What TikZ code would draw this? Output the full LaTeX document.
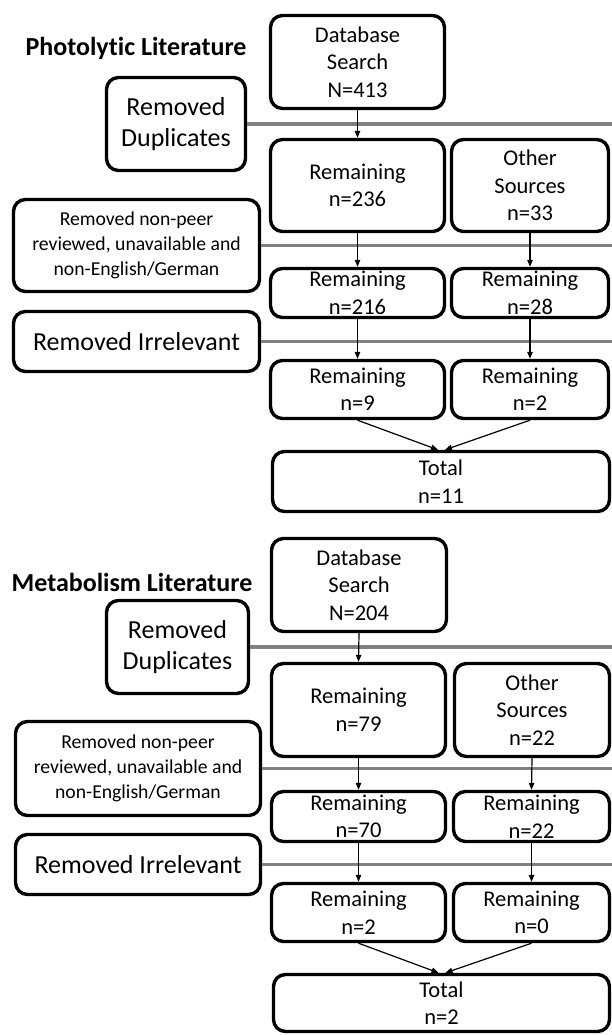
\documentclass[tikz,border=0pt]{standalone}
\usepackage{fontspec}
\setmainfont{Carlito}[Ligatures=CommonOff]
\usetikzlibrary{arrows.meta}
\definecolor{lgray}{RGB}{128,128,128}
\begin{document}
\begin{tikzpicture}[x=1pt,y=-1pt,
  box/.style={draw=black, line width=3.4pt, rounded corners=12pt, inner sep=0pt, align=center, font=\fontsize{22.5}{27.5}\selectfont},
  bigtxt/.style={font=\fontsize{26}{31}\selectfont},
  smalltxt/.style={font=\fontsize{19.7}{25}\selectfont},
  ttl/.style={inner sep=0pt, font=\fontsize{26}{30}\selectfont\bfseries},
  gline/.style={draw=lgray, line width=3.4pt},
  arr/.style={-{Triangle[length=7pt,width=5.5pt]}, line width=1.2pt}
]
\useasboundingbox (0,0) rectangle (612,1035);

% ---------- Part 1 ----------
\node[ttl] (t1) at (136,48) {Photolytic Literature};
\node[box, minimum width=174pt, minimum height=93pt] (db1) at (357.5,62) {Database\\Search\\N=413};
\node[box, bigtxt, minimum width=139pt, minimum height=93pt] (dup1) at (176,124) {Removed\\Duplicates};
\node[box, minimum width=174pt, minimum height=92pt] (rem1) at (357.5,185.5) {Remaining\\n=236};
\node[box, minimum width=157pt, minimum height=92pt] (oth1) at (530,185.5) {Other\\Sources\\n=33};
\node[box, smalltxt, minimum width=246pt, minimum height=92pt] (np1) at (136.5,245.5) {Removed non-peer\\reviewed, unavailable and\\non-English/German};
\node[box, minimum width=174pt, minimum height=49pt] (r216) at (357.5,293) {Remaining\\n=216};
\node[box, minimum width=157pt, minimum height=49pt] (r28) at (530,293) {Remaining\\n=28};
\node[box, bigtxt, minimum width=246pt, minimum height=60pt] (irr1) at (136.5,341.5) {Removed Irrelevant};
\node[box, minimum width=174pt, minimum height=58pt] (r9) at (357.5,389.5) {Remaining\\n=9};
\node[box, minimum width=157pt, minimum height=58pt] (r2a) at (530,389.5) {Remaining\\n=2};
\node[box, minimum width=337pt, minimum height=60pt] (tot1) at (441,481.5) {Total\\n=11};

\coordinate (e1) at (612,124);
\coordinate (e2) at (612,245.5);
\coordinate (e3) at (612,341.5);
\draw[gline] (dup1.east) -- (e1);
\draw[gline] (np1.east) -- (e2);
\draw[gline] (irr1.east) -- (e3);

\draw[arr] (db1.south) -- (rem1.north);
\draw[arr] (rem1.south) -- (r216.north);
\draw[arr] (oth1.south) -- (r28.north);
\draw[arr] (r216.south) -- (r9.north);
\draw[arr] (r28.south) -- (r2a.north);
\draw[arr] (r9.south) -- ([xshift=-3pt]tot1.north);
\draw[arr] (r2a.south) -- ([xshift=4pt]tot1.north);

% ---------- Part 2 ----------
\node[ttl] (t2) at (132,582) {Metabolism Literature};
\node[box, minimum width=175pt, minimum height=93pt] (db2) at (359,585) {Database\\Search\\N=204};
\node[box, bigtxt, minimum width=142pt, minimum height=93pt] (dup2) at (177.5,647) {Removed\\Duplicates};
\node[box, minimum width=174pt, minimum height=93pt] (rem2) at (358.5,710) {Remaining\\n=79};
\node[box, minimum width=155pt, minimum height=93pt] (oth2) at (532,710) {Other\\Sources\\n=22};
\node[box, smalltxt, minimum width=245pt, minimum height=94pt] (np2) at (138,768.5) {Removed non-peer\\reviewed, unavailable and\\non-English/German};
\node[box, minimum width=174pt, minimum height=50pt] (r70) at (358.5,816.5) {Remaining\\n=70};
\node[box, minimum width=156pt, minimum height=50pt] (r22) at (531.5,816.5) {Remaining\\n=22};
\node[box, bigtxt, minimum width=245pt, minimum height=60pt] (irr2) at (138,864.5) {Removed Irrelevant};
\node[box, minimum width=174pt, minimum height=58pt] (r2b) at (358.5,912.5) {Remaining\\n=2};
\node[box, minimum width=156pt, minimum height=58pt] (r0) at (531.5,912.5) {Remaining\\n=0};
\node[box, minimum width=336pt, minimum height=57pt] (tot2) at (441.5,1003) {Total\\n=2};

\coordinate (f1) at (612,647);
\coordinate (f2) at (612,768.5);
\coordinate (f3) at (612,864.5);
\draw[gline] (dup2.east) -- (f1);
\draw[gline] (np2.east) -- (f2);
\draw[gline] (irr2.east) -- (f3);

\draw[arr] (db2.south) -- (rem2.north);
\draw[arr] (rem2.south) -- (r70.north);
\draw[arr] (oth2.south) -- (r22.north);
\draw[arr] (r70.south) -- (r2b.north);
\draw[arr] (r22.south) -- (r0.north);
\draw[arr] (r2b.south) -- ([xshift=-3pt]tot2.north);
\draw[arr] (r0.south) -- ([xshift=4pt]tot2.north);
\end{tikzpicture}
\end{document}
